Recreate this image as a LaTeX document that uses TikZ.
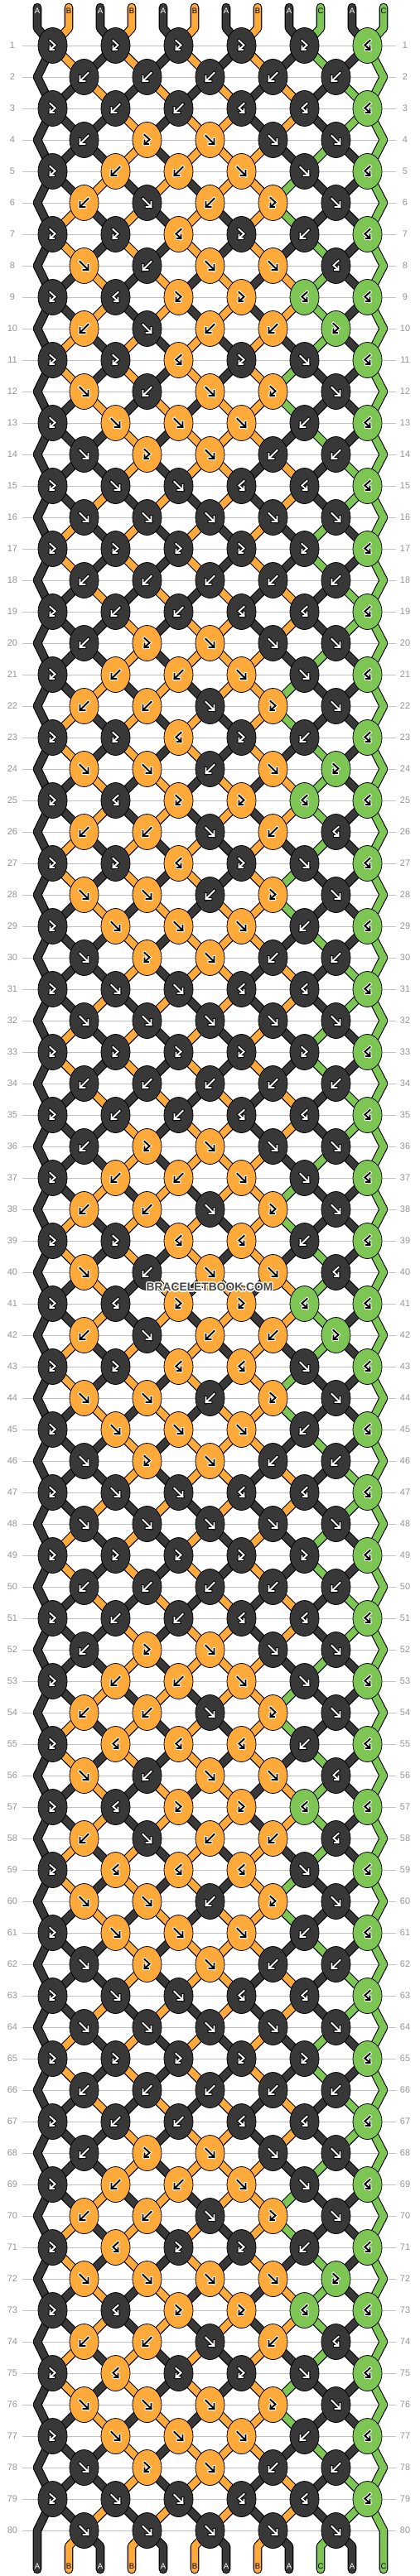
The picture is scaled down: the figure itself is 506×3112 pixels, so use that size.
\documentclass[tikz,border=0pt]{standalone}
\usepackage{fontspec}
\setsansfont{Liberation Sans}
\usepackage{xstring}
\usetikzlibrary{shapes.geometric}

\definecolor{cA}{RGB}{56,56,56}
\definecolor{cB}{RGB}{253,170,58}
\definecolor{cC}{RGB}{125,198,84}

\pgfdeclarelayer{rules}
\pgfdeclarelayer{rim}
\pgfdeclarelayer{core}
\pgfsetlayers{rules,rim,core,main}

\tikzset{
  knot/.style={ellipse, draw=black, line width=0.8pt, minimum width=35pt, minimum height=43pt, inner sep=0pt},
  strand rim/.style={black, line width=10.6pt, line cap=round, line join=round},
  strand core/.style={line width=8.4pt, line cap=round, line join=round},
  rownum/.style={text=black!42, font=\sffamily\fontsize{11}{11}\selectfont, inner sep=0pt},
  ruler/.style={draw=black!24, line width=0.9pt},
  tag/.style={font=\sffamily\fontsize{9.5}{9.5}\selectfont, inner sep=0pt},
  sign rim/.style={line width=3.9pt, line cap=rect, miter limit=4},
  sign core/.style={line width=1.9pt, line cap=rect, miter limit=4},
  watermark/.style={font=\sffamily\bfseries\fontsize{13.8}{13.8}\selectfont, inner sep=0pt},
}

% threads are collected here and drawn once, under the knots
\gdef\rimpath{}
\gdef\coreA{}\gdef\coreB{}\gdef\coreC{}
\newcommand\strand[3]{%
  \xdef\rimpath{\rimpath (#1) -- (#2)}%
  \expandafter\xdef\csname core#3\endcsname{\csname core#3\endcsname (#1) -- (#2)}}

% 1 forward, 2 backward, 3 forward-backward, 4 backward-forward
\newcommand\knotsign[3]{%
  \if A#3\def\signfg{white}\def\signbg{black}\else\def\signfg{black}\def\signbg{white}\fi
  \ifcase#2\or
    \def\signpath{(-5,-5) -- (5,5) (5,-1) -- (5,5) -- (-1,5)}\or
    \def\signpath{(5,-5) -- (-5,5) (-5,-1) -- (-5,5) -- (1,5)}\or
    \def\signpath{(-3,-6) -- (3,-0.5) -- (-3,5) (-3,0.5) -- (-3,5) -- (1.5,5)}\or
    \def\signpath{(3,-6) -- (-3,-0.5) -- (3,5) (3,0.5) -- (3,5) -- (-1.5,5)}\fi
  \begin{scope}[shift={(#1)}]
    \draw[sign rim, \signbg] \signpath;
    \draw[sign core, \signfg] \signpath;
  \end{scope}}

\def\knotrows{333334,22222,322444,23111,322114,21231,334324,12114,343344,21223,
334314,12131,311124,13122,311444,11111,333334,22222,322444,23111,
322114,22131,334324,11213,343344,22124,334314,11231,311124,13122,
311444,11111,333334,22222,322444,23111,322114,22131,334424,12114,
343344,21223,334414,11231,311124,13122,311444,11111,333334,22222,
322444,23111,322114,22131,344424,12114,343344,21224,344414,11231,
311124,13122,311444,11111,333334,22222,322444,23111,322114,22131,
343324,11113,343344,22124,343314,11131,311124,13122,311444,11111}

\begin{document}
\begin{tikzpicture}[x=1pt,y=-1pt]
  \useasboundingbox (0,0) rectangle (506,3112);

  \begin{pgfonlayer}{rules}
    \foreach \row in {1,...,80}
      \draw[ruler] (27,55+38*\row-38) -- (478,55+38*\row-38);
  \end{pgfonlayer}

  % threads at the top
  \foreach \i/\ini in {1/A,2/B,3/A,4/B,5/A,6/B,7/A,8/B,9/A,10/C,11/A,12/C}{
    \pgfmathsetmacro\xs{45+38*(\i-1)}
    \coordinate (top-\i) at (\xs,9);
    \coordinate (in-\i) at (\xs,34);
    \strand{top-\i}{in-\i}{\ini}
    \if A\ini\def\tagcol{white}\else\def\tagcol{black}\fi
    \node[tag, text=\tagcol] (tag-\i) at (\xs,13) {\ini};
    \expandafter\xdef\csname col\i\endcsname{\ini}
    \expandafter\xdef\csname last\i\endcsname{in-\i}
  }

  % knot rows
  \foreach \code [count=\row] in \knotrows {
    \pgfmathsetmacro\yr{55+38*(\row-1)}
    \node[rownum] (num-l-\row) at (15,\yr) {\row};
    \node[rownum] (num-r-\row) at (489,\yr) {\row};
    \ifodd\row\relax\else
      \coordinate (edge-l-\row) at (45,\yr);
      \coordinate (edge-r-\row) at (463,\yr);
      \edef\lastL{\csname last1\endcsname}\edef\lcol{\csname col1\endcsname}
      \strand{\lastL}{edge-l-\row}{\lcol}
      \edef\lastR{\csname last12\endcsname}\edef\rcol{\csname col12\endcsname}
      \strand{\lastR}{edge-r-\row}{\rcol}
      \expandafter\xdef\csname last1\endcsname{edge-l-\row}
      \expandafter\xdef\csname last12\endcsname{edge-r-\row}
    \fi
    \StrLen{\code}[\nk]
    \foreach \kn in {1,...,\nk}{
      \StrChar{\code}{\kn}[\kt]
      \pgfmathtruncatemacro\pl{2*\kn-mod(\row,2)}
      \pgfmathtruncatemacro\pr{\pl+1}
      \edef\lcol{\csname col\pl\endcsname}
      \edef\rcol{\csname col\pr\endcsname}
      \edef\lastL{\csname last\pl\endcsname}
      \edef\lastR{\csname last\pr\endcsname}
      \ifodd\kt\relax\let\kcol\lcol\else\let\kcol\rcol\fi
      \pgfmathsetmacro\xk{25.5+38*\pl}
      \node[knot, fill=c\kcol] (k-\row-\kn) at (\xk,\yr) {};
      \knotsign{k-\row-\kn}{\kt}{\kcol}
      \strand{\lastL}{k-\row-\kn.center}{\lcol}
      \strand{\lastR}{k-\row-\kn.center}{\rcol}
      \expandafter\xdef\csname last\pl\endcsname{k-\row-\kn.center}
      \expandafter\xdef\csname last\pr\endcsname{k-\row-\kn.center}
      \ifnum\kt<3
        \expandafter\xdef\csname col\pl\endcsname{\rcol}
        \expandafter\xdef\csname col\pr\endcsname{\lcol}
      \fi
    }
  }

  % threads at the bottom
  \foreach \i in {1,...,12}{
    \pgfmathsetmacro\xs{45+38*(\i-1)}
    \coordinate (out-\i) at (\xs,3076);
    \coordinate (end-\i) at (\xs,3104);
    \edef\lastI{\csname last\i\endcsname}
    \edef\icol{\csname col\i\endcsname}
    \strand{\lastI}{out-\i}{\icol}
    \strand{out-\i}{end-\i}{\icol}
    \if A\icol\def\tagcol{white}\else\def\tagcol{black}\fi
    \node[tag, text=\tagcol] (foot-\i) at (\xs,3100) {\icol};
  }

  \begin{pgfonlayer}{rim}
    \draw[strand rim] \rimpath;
  \end{pgfonlayer}
  \begin{pgfonlayer}{core}
    \draw[strand core, draw=cA] \coreA;
    \draw[strand core, draw=cB] \coreB;
    \draw[strand core, draw=cC] \coreC;
  \end{pgfonlayer}

  % site mark
  \foreach \a in {0,45,...,315}
    \node[watermark, text=white] (halo-\a) at ([shift={(\a:1.3)}]253,1555) {BRACELETBOOK.COM};
  \node[watermark, text=black!72] (mark) at (253,1555) {BRACELETBOOK.COM};
\end{tikzpicture}
\end{document}
